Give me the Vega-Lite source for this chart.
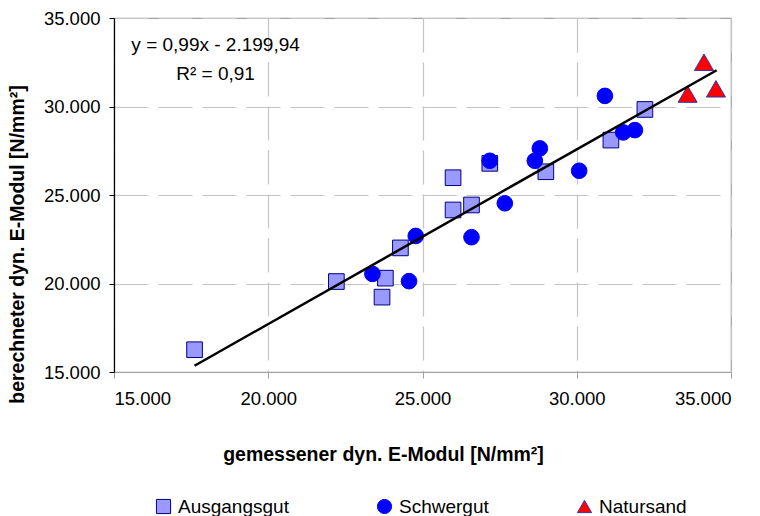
{
  "$schema": "https://vega.github.io/schema/vega-lite/v6.json",
  "width": 617,
  "height": 354,
  "autosize": "none",
  "padding": {"left": 114, "top": 18, "right": 29, "bottom": 144},
  "background": "white",
  "config": {
    "font": "Liberation Sans",
    "view": {"stroke": "#A0A0A0", "strokeWidth": 1.2},
    "axis": {"labelFont": "Liberation Sans", "titleFont": "Liberation Sans", "labelColor": "black", "titleColor": "black"},
    "legend": {
      "title": null, "orient": "none", "direction": "horizontal", "columns": 3,
      "legendX": 40, "legendY": 479,
      "labelFontSize": 19, "labelColor": "black", "labelFont": "Liberation Sans",
      "symbolSize": 200, "symbolStrokeWidth": 1, "labelOffset": 5,
      "columnPadding": 86, "gridAlign": "none"
    }
  },
  "datasets": {
    "points": [
      {"gemessen": 17611, "berechnet": 16258, "Gruppe": "Ausgangsgut"},
      {"gemessen": 22208, "berechnet": 20110, "Gruppe": "Ausgangsgut"},
      {"gemessen": 23797, "berechnet": 20302, "Gruppe": "Ausgangsgut"},
      {"gemessen": 23688, "berechnet": 19230, "Gruppe": "Ausgangsgut"},
      {"gemessen": 24284, "berechnet": 22011, "Gruppe": "Ausgangsgut"},
      {"gemessen": 25991, "berechnet": 24154, "Gruppe": "Ausgangsgut"},
      {"gemessen": 26588, "berechnet": 24436, "Gruppe": "Ausgangsgut"},
      {"gemessen": 25991, "berechnet": 25976, "Gruppe": "Ausgangsgut"},
      {"gemessen": 27181, "berechnet": 26788, "Gruppe": "Ausgangsgut"},
      {"gemessen": 28998, "berechnet": 26314, "Gruppe": "Ausgangsgut"},
      {"gemessen": 31107, "berechnet": 28102, "Gruppe": "Ausgangsgut"},
      {"gemessen": 32209, "berechnet": 29833, "Gruppe": "Ausgangsgut"},
      {"gemessen": 23376, "berechnet": 20544, "Gruppe": "Schwergut"},
      {"gemessen": 24563, "berechnet": 20132, "Gruppe": "Schwergut"},
      {"gemessen": 24781, "berechnet": 22687, "Gruppe": "Schwergut"},
      {"gemessen": 26588, "berechnet": 22614, "Gruppe": "Schwergut"},
      {"gemessen": 27668, "berechnet": 24532, "Gruppe": "Schwergut"},
      {"gemessen": 27181, "berechnet": 26934, "Gruppe": "Schwergut"},
      {"gemessen": 28803, "berechnet": 27634, "Gruppe": "Schwergut"},
      {"gemessen": 28641, "berechnet": 26934, "Gruppe": "Schwergut"},
      {"gemessen": 30078, "berechnet": 26370, "Gruppe": "Schwergut"},
      {"gemessen": 30912, "berechnet": 30600, "Gruppe": "Schwergut"},
      {"gemessen": 31885, "berechnet": 28666, "Gruppe": "Schwergut"},
      {"gemessen": 31506, "berechnet": 28536, "Gruppe": "Schwergut"},
      {"gemessen": 34124, "berechnet": 32500, "Gruppe": "Natursand"},
      {"gemessen": 33594, "berechnet": 30700, "Gruppe": "Natursand"},
      {"gemessen": 34512, "berechnet": 31000, "Gruppe": "Natursand"}
    ],
    "trend": [
      {"gemessen": 17611, "berechnet": 15355},
      {"gemessen": 34535, "berechnet": 32050}
    ],
    "labels": [
      {"gemessen": 18293, "berechnet": 33121, "text": "y = 0,99x - 2.199,94"},
      {"gemessen": 18293, "berechnet": 31486, "text": "R² = 0,91"}
    ]
  },
  "encoding": {
    "x": {
      "field": "gemessen", "type": "quantitative",
      "scale": {"domain": [15000, 35000], "nice": false, "zero": false},
      "axis": {
        "values": [15000, 20000, 25000, 30000, 35000],
        "labelExpr": "replace(format(datum.value, ','), ',', '.')",
        "labelFontSize": 18.5, "labelPadding": 11,
        "domainColor": "#A0A0A0", "domainWidth": 1.2,
        "tickColor": "#A0A0A0", "tickSize": 6,
        "grid": true, "gridColor": "#C4C4C4", "gridDash": [34, 10], "gridWidth": 1.2,
        "title": "gemessener dyn. E-Modul [N/mm²]",
        "titleFontSize": 19.5, "titleFontWeight": "bold",
        "titleX": 269, "titleY": 88, "titleAlign": "center", "titleBaseline": "alphabetic", "titleAnchor": null
      }
    },
    "y": {
      "field": "berechnet", "type": "quantitative",
      "scale": {"domain": [15000, 35000], "nice": false, "zero": false},
      "axis": {
        "values": [15000, 20000, 25000, 30000, 35000],
        "labelExpr": "replace(format(datum.value, ','), ',', '.')",
        "labelFontSize": 18.5, "labelPadding": 9,
        "domainColor": "black", "domainWidth": 1.2,
        "tickColor": "black", "tickSize": 5,
        "grid": true, "gridColor": "#C4C4C4", "gridDash": [34, 10], "gridWidth": 1.2,
        "title": "berechneter dyn. E-Modul [N/mm²]",
        "titleFontSize": 19.5, "titleFontWeight": "bold",
        "titleX": -97, "titleY": 226, "titleAlign": "center", "titleBaseline": "middle", "titleAngle": -90, "titleAnchor": null
      }
    }
  },
  "layer": [
    {
      "data": {"name": "points"},
      "transform": [{"filter": "datum.Gruppe !== 'Natursand'"}],
      "mark": {"type": "point", "filled": true, "opacity": 1, "strokeWidth": 1, "size": 245},
      "encoding": {
        "shape": {
          "field": "Gruppe", "type": "nominal",
          "scale": {"domain": ["Ausgangsgut", "Schwergut", "Natursand"], "range": ["square", "circle", "triangle-up"]}
        },
        "fill": {
          "field": "Gruppe", "type": "nominal",
          "scale": {"domain": ["Ausgangsgut", "Schwergut", "Natursand"], "range": ["#9999FF", "#0000FF", "#FF0000"]}
        },
        "stroke": {
          "field": "Gruppe", "type": "nominal",
          "scale": {"domain": ["Ausgangsgut", "Schwergut", "Natursand"], "range": ["#000080", "#0000FF", "#3333AA"]}
        }
      }
    },
    {
      "data": {"name": "points"},
      "transform": [{"filter": "datum.Gruppe === 'Natursand'"}],
      "mark": {"type": "point", "filled": true, "opacity": 1, "strokeWidth": 1, "size": 360},
      "encoding": {
        "shape": {"field": "Gruppe", "type": "nominal"},
        "fill": {"field": "Gruppe", "type": "nominal"},
        "stroke": {"field": "Gruppe", "type": "nominal"}
      }
    },
    {
      "data": {"name": "trend"},
      "mark": {"type": "line", "color": "black", "strokeWidth": 2.5},
      "encoding": {}
    },
    {
      "data": {"name": "labels"},
      "mark": {"type": "text", "fontSize": 19, "font": "Liberation Sans", "color": "black", "align": "center", "baseline": "alphabetic"},
      "encoding": {
        "text": {"field": "text"}
      }
    }
  ]
}
